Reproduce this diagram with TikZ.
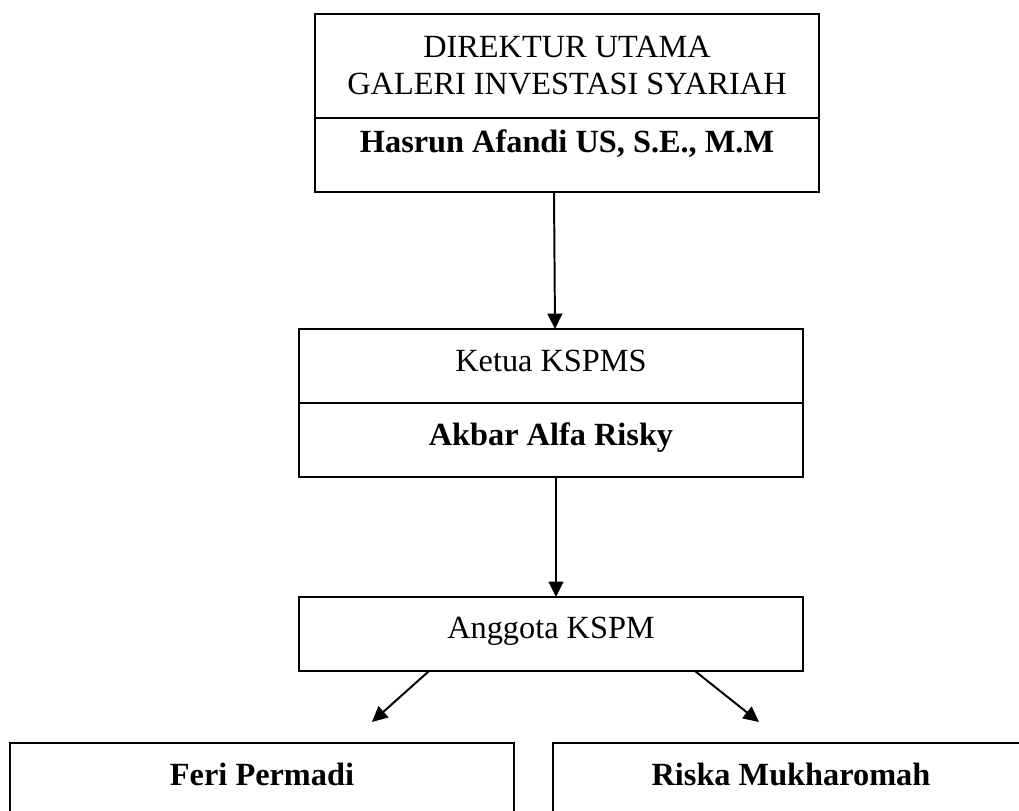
\documentclass[tikz,border=0pt]{standalone}
\usepackage{fontspec}
\setmainfont{Liberation Serif}
\usetikzlibrary{positioning,arrows.meta}

\tikzset{
  kotak/.style = {draw, line width=1.4pt, inner sep=0pt, outer sep=0pt,
                  minimum width=12.6cm, font=\fontsize{23}{26.3}\selectfont},
  tebal/.style = {font=\fontsize{23}{26.3}\selectfont\bfseries},
  isi/.style   = {kotak, text height=1.05cm, text depth=0.8cm},
  panah/.style = {-{Triangle[length=11pt,width=10.5pt]}, line width=1.4pt}
}

\begin{document}
\begin{tikzpicture}
      \useasboundingbox (0,0) rectangle (25.475,-20.25);
      \clip (0,0) rectangle (25.475,-20.25);

      \node[kotak, minimum height=2.6cm, align=center, anchor=north west] (dirut) at (7.875,-0.35)
        {DIREKTUR UTAMA\\GALERI INVESTASI SYARIAH};
      \node[kotak, tebal, below=0pt of dirut, text height=0.85cm, text depth=1.0cm] (hasrun)
        {Hasrun Afandi US, S.E., M.M};

      \node[isi, below=3.425cm of hasrun, xshift=-0.4cm] (ketua) {Ketua KSPMS};
      \node[isi, tebal, below=0pt of ketua] (akbar) {Akbar Alfa Risky};

      \node[isi, below=3cm of akbar, text height=1.025cm, text depth=0.825cm] (anggota) {Anggota KSPM};

      \node[kotak, tebal, below=1.8cm of anggota, xshift=-7.225cm, text height=1.05cm, text depth=1.5cm] (feri)
        {Feri Permadi};
      \node[kotak, tebal, right=0.975cm of feri, minimum width=11.9cm, text height=1.05cm, text depth=1.5cm] (riska)
        {Riska Mukharomah};

      \draw[panah] ([xshift=-0.325cm]hasrun.south) -- ([xshift=0.1cm]ketua.north);
      \draw[panah] ([xshift=0.125cm]akbar.south) -- ([xshift=0.125cm]anggota.north);
      \draw[panah] ([xshift=-3.05cm]anggota.south) -- ([xshift=2.75cm,yshift=0.525cm]feri.north);
      \draw[panah] ([xshift=3.6cm]anggota.south) -- ([xshift=-0.8cm,yshift=0.525cm]riska.north);
\end{tikzpicture}
\end{document}
